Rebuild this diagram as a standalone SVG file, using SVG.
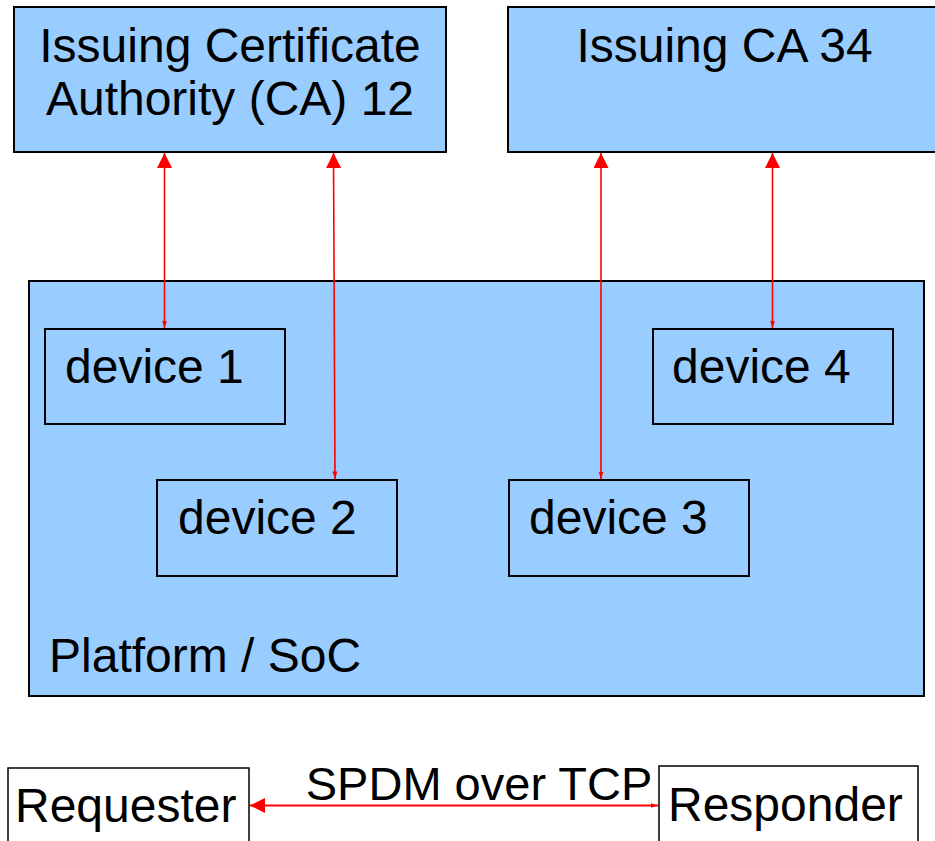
<svg xmlns="http://www.w3.org/2000/svg" width="935" height="841" viewBox="0 0 935 841">
<defs>
<style>
.box{fill:#99ccff;stroke:#000;stroke-width:2}
.wbox{fill:#fff;stroke:#000;stroke-width:1.5}
.t{font-family:"Liberation Sans",Arial,sans-serif;font-size:48px;fill:#000}
.c{text-anchor:middle}
.link{stroke:#ff0000;stroke-width:1.6;fill:none;marker-start:url(#big);marker-end:url(#small)}
</style>
<marker id="big" viewBox="0 0 15 15" refX="15" refY="7.5" markerWidth="15" markerHeight="15" markerUnits="userSpaceOnUse" orient="auto-start-reverse">
<path d="M0,0 L15,7.5 L0,15 z" fill="#ff0000"/>
</marker>
<marker id="small" viewBox="0 0 7.5 5" refX="7.5" refY="2.5" markerWidth="7.5" markerHeight="5" markerUnits="userSpaceOnUse" orient="auto">
<path d="M0,0 L7.5,2.5 L0,5 z" fill="#ff0000"/>
</marker>
</defs>
<rect width="935" height="841" fill="#fff"/>
<g id="ca12">
<rect class="box" x="14" y="7" width="432" height="145"/>
<text class="t c" x="230" y="62">Issuing Certificate</text>
<text class="t c" x="230" y="115">Authority (CA) 12</text>
</g>
<g id="ca34">
<rect class="box" x="508" y="7" width="434" height="145"/>
<text class="t c" x="724.5" y="62">Issuing CA 34</text>
</g>
<g id="platform">
<rect class="box" x="29" y="281" width="895" height="415"/>
<text class="t" x="49" y="672">Platform / SoC</text>
</g>
<g id="device1">
<rect class="box" x="45" y="329" width="240" height="95"/>
<text class="t" x="65" y="383">device 1</text>
</g>
<g id="device4">
<rect class="box" x="653" y="329" width="240" height="95"/>
<text class="t" x="672" y="383">device 4</text>
</g>
<g id="device2">
<rect class="box" x="157" y="480" width="240" height="96"/>
<text class="t" x="178" y="534">device 2</text>
</g>
<g id="device3">
<rect class="box" x="509" y="480" width="240" height="96"/>
<text class="t" x="529" y="534">device 3</text>
</g>
<g id="requester">
<rect class="wbox" x="8" y="768" width="241" height="80"/>
<text class="t" x="15" y="822">Requester</text>
</g>
<g id="responder">
<rect class="wbox" x="659" y="766" width="259" height="82"/>
<text class="t" x="668" y="821">Responder</text>
</g>
<g id="connectors">
<path class="link" d="M164.5,153 L164.5,328"/>
<path class="link" d="M333.5,153 L335,479"/>
<path class="link" d="M601,153 L601,479"/>
<path class="link" d="M772.5,153 L772.5,328"/>
<path class="link" d="M250,805.5 L658,805.5" style="stroke-width:2.2"/>
<text class="t c" x="479" y="800" style="font-size:47px">SPDM over TCP</text>
</g>
</svg>
